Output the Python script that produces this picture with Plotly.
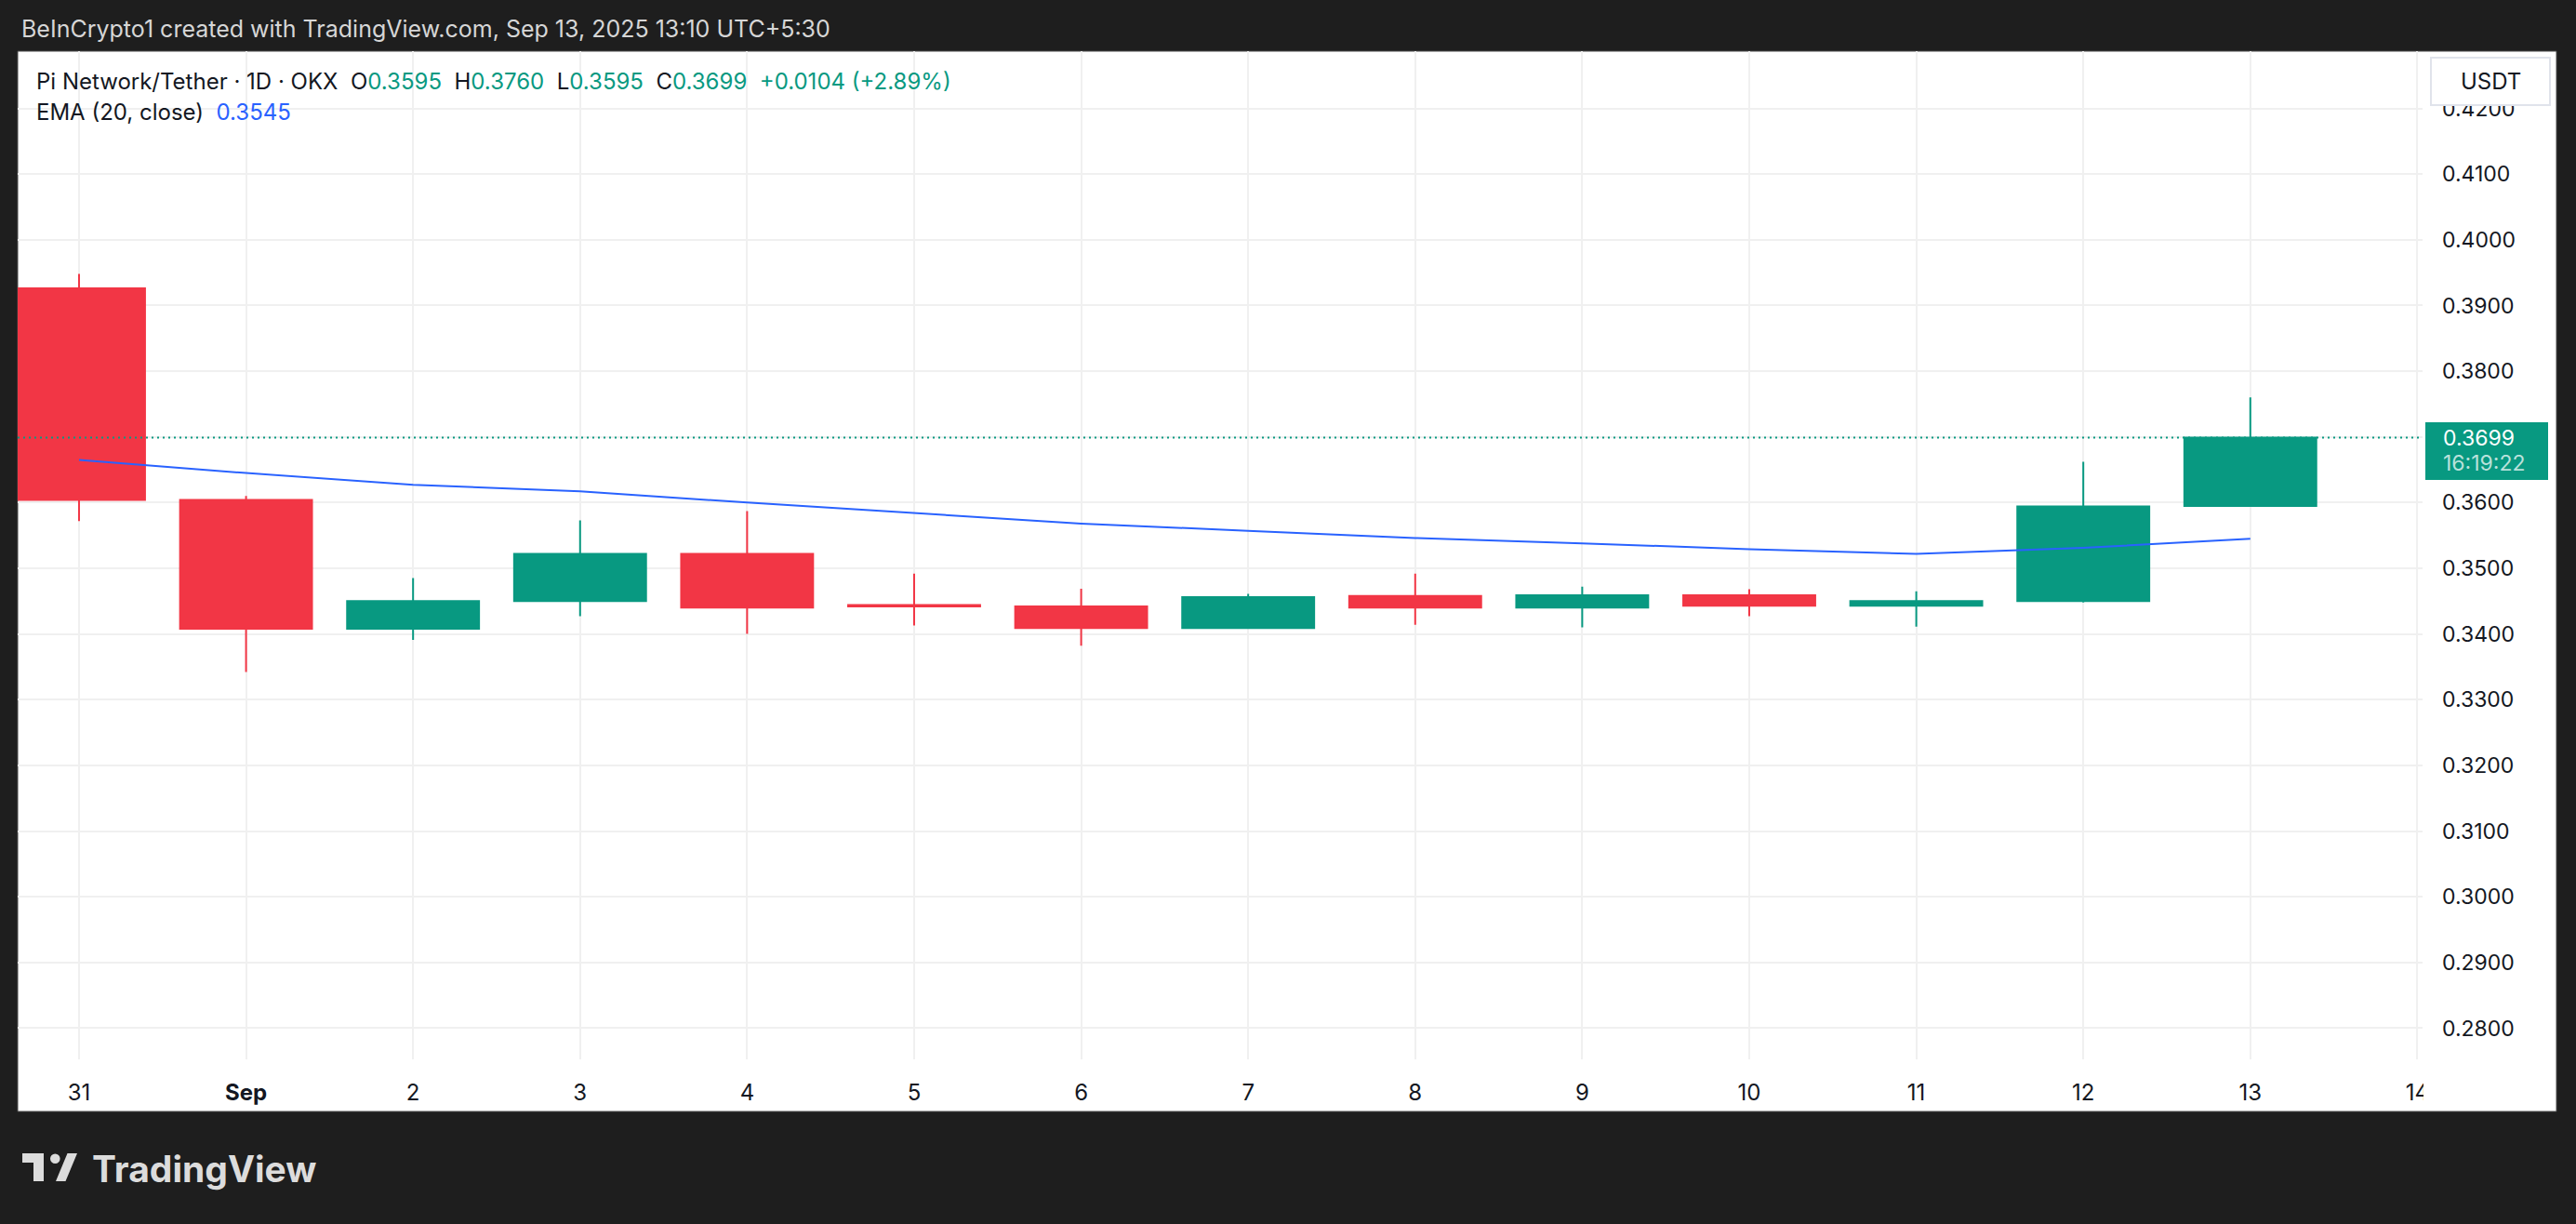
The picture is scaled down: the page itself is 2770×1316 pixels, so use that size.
import plotly.graph_objects as go

# ---------------- data ----------------
dates = ["2025-08-31", "2025-09-01", "2025-09-02", "2025-09-03", "2025-09-04",
         "2025-09-05", "2025-09-06", "2025-09-07", "2025-09-08", "2025-09-09",
         "2025-09-10", "2025-09-11", "2025-09-12", "2025-09-13"]
open_ = [0.3926, 0.3604, 0.3408, 0.3450, 0.3522, 0.3444, 0.3442, 0.3409, 0.3458, 0.3440,
         0.3459, 0.3443, 0.3450, 0.3595]
high = [0.3948, 0.3610, 0.3485, 0.3573, 0.3587, 0.3492, 0.3469, 0.3461, 0.3492, 0.3472,
        0.3468, 0.3465, 0.3662, 0.3760]
low = [0.3572, 0.3342, 0.3391, 0.3427, 0.3400, 0.3413, 0.3382, 0.3409, 0.3414, 0.3410,
       0.3427, 0.3411, 0.3448, 0.3595]
close = [0.3604, 0.3408, 0.3450, 0.3522, 0.3440, 0.3442, 0.3409, 0.3456, 0.3440, 0.3459,
         0.3443, 0.3450, 0.3594, 0.3699]
ema20 = [0.3665, 0.3645, 0.3627, 0.3617, 0.3600, 0.3584, 0.3568, 0.3557, 0.3546, 0.3538,
         0.3529, 0.3522, 0.3531, 0.3545]

tick_dates = ["2025-08-31", "2025-09-01", "2025-09-02", "2025-09-03", "2025-09-04",
              "2025-09-05", "2025-09-06", "2025-09-07", "2025-09-08", "2025-09-09",
              "2025-09-10", "2025-09-11", "2025-09-12", "2025-09-13", "2025-09-14"]
tick_text = ["31", "<b>Sep</b>", "2", "3", "4", "5", "6", "7", "8", "9", "10", "11", "12", "13", "14"]
price_ticks = [0.28, 0.29, 0.30, 0.31, 0.32, 0.33, 0.34, 0.35, 0.36, 0.37, 0.38, 0.39, 0.40, 0.41, 0.42]
last_price = 0.3699
countdown = "16:19:22"
header = "BeInCrypto1 created with TradingView.com, Sep 13, 2025 13:10 UTC+5:30"

# ---------------- styling / geometry ----------------
W, H = 2770, 1316
L, R, T, B = 19, 2605, 55, 1139
GREEN, RED, BLUE, TXT = "#089981", "#f23645", "#2962ff", "#131722"
DARK = "#1e1e1e"
FONT = "Inter"


def px(x):
    return (x - L) / (R - L)


def py(y):
    return (B - y) / (B - T)


fig = go.Figure()

fig.add_trace(go.Scatter(
    x=dates, y=ema20, mode="lines", line=dict(color=BLUE, width=2),
    hoverinfo="skip", showlegend=False))

fig.add_trace(go.Candlestick(
    x=dates, open=open_, high=high, low=low, close=close,
    increasing=dict(line=dict(color=GREEN, width=2), fillcolor=GREEN),
    decreasing=dict(line=dict(color=RED, width=2), fillcolor=RED),
    whiskerwidth=0, showlegend=False))

shapes = []
# white panel
shapes.append(dict(type="rect", xref="paper", yref="paper", layer="below",
                   x0=px(19), x1=px(2749), y0=py(1195), y1=py(55),
                   fillcolor="white", line=dict(color="#4a4a4a", width=1)))
# clip the x-labels under the price scale
shapes.append(dict(type="rect", xref="paper", yref="paper", layer="above",
                   x0=px(2606), x1=px(2748), y0=py(1194), y1=py(1140),
                   fillcolor="white", line=dict(width=0)))
# last price dotted line
shapes.append(dict(type="line", xref="paper", yref="y", layer="above",
                   x0=0, x1=1, y0=last_price, y1=last_price,
                   line=dict(color=GREEN, width=2, dash="2px,4px")))
# price tag box
shapes.append(dict(type="rect", xref="paper", yref="paper", layer="above",
                   x0=px(2608), x1=px(2740), y0=py(516), y1=py(454),
                   fillcolor=GREEN, line=dict(width=0)))
# USDT box
shapes.append(dict(type="rect", xref="paper", yref="paper", layer="above",
                   x0=px(2614), x1=px(2742), y0=py(113), y1=py(62),
                   fillcolor="white", line=dict(color="#e0e3eb", width=2)))
# TradingView logo glyph
LOGO = "#dcdcdc"
def path(pts):
    return "M " + " L ".join(f"{px(a)},{py(b)}" for a, b in pts) + " Z"
shapes.append(dict(type="path", xref="paper", yref="paper", layer="above",
                   path=path([(24, 1240), (47, 1240), (47, 1270), (36, 1270), (36, 1250), (24, 1250)]),
                   fillcolor=LOGO, line=dict(width=0)))
shapes.append(dict(type="circle", xref="paper", yref="paper", layer="above",
                   x0=px(54), x1=px(64.6), y0=py(1251), y1=py(1240.4),
                   fillcolor=LOGO, line=dict(width=0)))
shapes.append(dict(type="path", xref="paper", yref="paper", layer="above",
                   path=path([(60, 1270), (70.5, 1270), (83, 1240), (72.5, 1240)]),
                   fillcolor=LOGO, line=dict(width=0)))

ann = []
ann.append(dict(text=header, x=px(21), y=py(31), xanchor="left", yanchor="middle",
                font=dict(family=FONT, size=25, color="#d6d6d6")))
g = lambda s: f"<span style='color:{GREEN}'>{s}</span>"
sp = "\u00a0\u00a0"
ohlc = ("Pi Network/Tether · 1D · OKX" + sp + "O" + g("0.3595") + sp + "H" + g("0.3760") + sp +
        "L" + g("0.3595") + sp + "C" + g("0.3699") + sp + g("+0.0104 (+2.89%)"))
ann.append(dict(text=ohlc, x=px(37), y=py(87), xanchor="left", yanchor="middle",
                font=dict(family=FONT, size=24, color=TXT)))
ann.append(dict(text="EMA (20, close)" + sp + f"<span style='color:{BLUE}'>0.3545</span>",
                x=px(37), y=py(120), xanchor="left", yanchor="middle",
                font=dict(family=FONT, size=24, color=TXT)))
ann.append(dict(text="USDT", x=px(2678), y=py(88), xanchor="center", yanchor="middle",
                font=dict(family=FONT, size=24, color=TXT)))
ann.append(dict(text=f"{last_price:.4f}", x=px(2625), y=py(471), xanchor="left", yanchor="middle",
                font=dict(family=FONT, size=23, color="white")))
ann.append(dict(text=countdown, x=px(2625), y=py(498), xanchor="left", yanchor="middle",
                font=dict(family=FONT, size=23, color="rgba(255,255,255,0.72)")))
ann.append(dict(text="<b>TradingView</b>", x=px(97), y=py(1256), xanchor="left", yanchor="middle",
                font=dict(family=FONT, size=39, color=LOGO)))
for a in ann:
    a.update(xref="paper", yref="paper", showarrow=False)

fig.update_layout(
    width=W, height=H,
    margin=dict(l=L, r=W - R, t=T, b=H - B, pad=0),
    paper_bgcolor=DARK, plot_bgcolor="white",
    boxgap=0.21, boxgroupgap=0,
    showlegend=False, hovermode=False,
    shapes=shapes, annotations=ann,
    font=dict(family=FONT, color=TXT),
    xaxis=dict(type="date", range=["2025-08-30 15:11", "2025-09-14 00:45"],
               tickvals=tick_dates, ticktext=tick_text, showgrid=True,
               gridcolor="#f0f0f0", gridwidth=2, zeroline=False, showline=False,
               ticks="", ticklabelstandoff=19, rangeslider=dict(visible=False),
               tickfont=dict(family=FONT, size=24, color=TXT), fixedrange=True),
    yaxis=dict(side="right", range=[0.27525, 0.42871], tickvals=price_ticks,
               tickformat=".4f", showgrid=True, gridcolor="#f0f0f0", gridwidth=2,
               zeroline=False, showline=False, ticks="", ticklabelstandoff=20,
               tickfont=dict(family=FONT, size=23, color=TXT), fixedrange=True),
)

fig.write_html("out.html", config={"displayModeBar": False},
               post_script="document.body.style.margin='0px';document.body.style.overflow='hidden';"
                           "document.body.style.background='" + DARK + "';")
